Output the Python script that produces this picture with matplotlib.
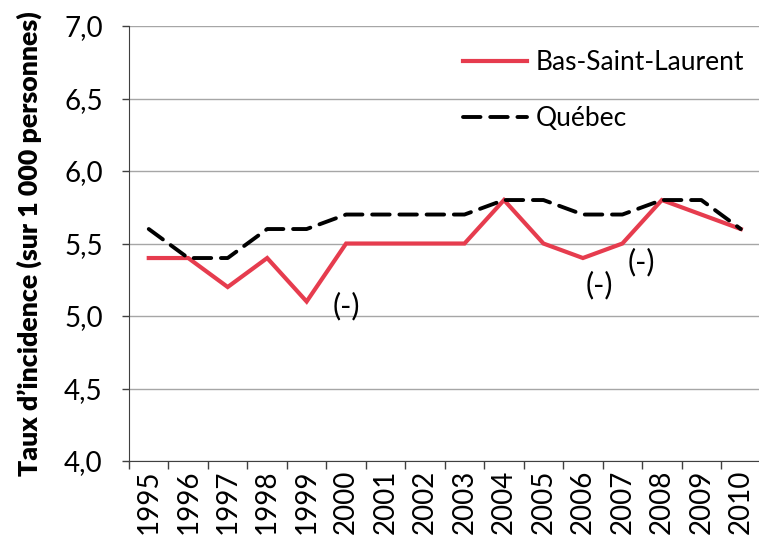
import matplotlib
matplotlib.use("Agg")
import matplotlib.pyplot as plt
import numpy as np

years = ["1995", "1996", "1997", "1998", "1999", "2000", "2001", "2002",
         "2003", "2004", "2005", "2006", "2007", "2008", "2009", "2010"]
bsl = [5.4, 5.4, 5.2, 5.4, 5.1, 5.5, 5.5, 5.5, 5.5, 5.8, 5.5, 5.4, 5.5, 5.8, 5.7, 5.6]
quebec = [5.6, 5.4, 5.4, 5.6, 5.6, 5.7, 5.7, 5.7, 5.7, 5.8, 5.8, 5.7, 5.7, 5.8, 5.8, 5.6]
yticks = [4.0, 4.5, 5.0, 5.5, 6.0, 6.5, 7.0]
notes = [("2000", "(-)"), ("2006", "(-)"), ("2007", "(-)")]

plt.rcParams['font.family'] = ['Lato', 'DejaVu Sans']

fig = plt.figure(figsize=(7.59, 5.37), dpi=100)
ax = fig.add_axes([0.170, 0.1415, 0.832, 0.810])

x = np.arange(len(years))
ax.plot(x, bsl, color="#E63C4E", lw=3.0, solid_joinstyle="miter", label="Bas-Saint-Laurent", zorder=3)
ax.plot(x, quebec, color="black", lw=2.8, dashes=(4.5, 2.5), dash_capstyle="round",
        label="Québec", zorder=4)

ax.set_xlim(-0.5, len(years) - 0.5)
ax.set_ylim(4.0, 7.0)
ax.set_yticks(yticks)
ax.set_yticklabels([f"{v:.1f}".replace(".", ",") for v in yticks], fontsize=20)
ax.set_xticks(x)
ax.set_xticklabels(years, rotation=90, fontsize=20)
ax.set_xticks(np.arange(-0.5, len(years) + 0.5, 1), minor=True)
ax.tick_params(axis="x", which="major", length=0, pad=6)
ax.tick_params(axis="x", which="minor", length=6, width=1, color="#404040")
ax.tick_params(axis="y", length=5, width=1, color="#404040", pad=14)

ax.grid(axis="y", color="#A6A6A6", lw=1)
ax.set_axisbelow(True)
for s in ["top", "right"]:
    ax.spines[s].set_visible(False)
ax.spines["left"].set_color("#404040")
ax.spines["bottom"].set_color("#404040")

ax.set_ylabel("Taux d’incidence (sur 1 000 personnes)", fontsize=19.3, fontweight="heavy", labelpad=16)

# annotations
offs = {"2000": (0.0, -0.43), "2006": (0.42, -0.19), "2007": (0.49, -0.13)}
for yr, txt in notes:
    i = years.index(yr)
    dx, dy = offs[yr]
    ax.text(i + dx, bsl[i] + dy, txt, fontsize=22, ha="center", va="center")

leg = ax.legend(loc="upper right", bbox_to_anchor=(1.012, 1.0), frameon=False, fontsize=19,
                handlelength=2.4, handletextpad=0.35, labelspacing=1.2)

fig.savefig("out.png", dpi=100)
